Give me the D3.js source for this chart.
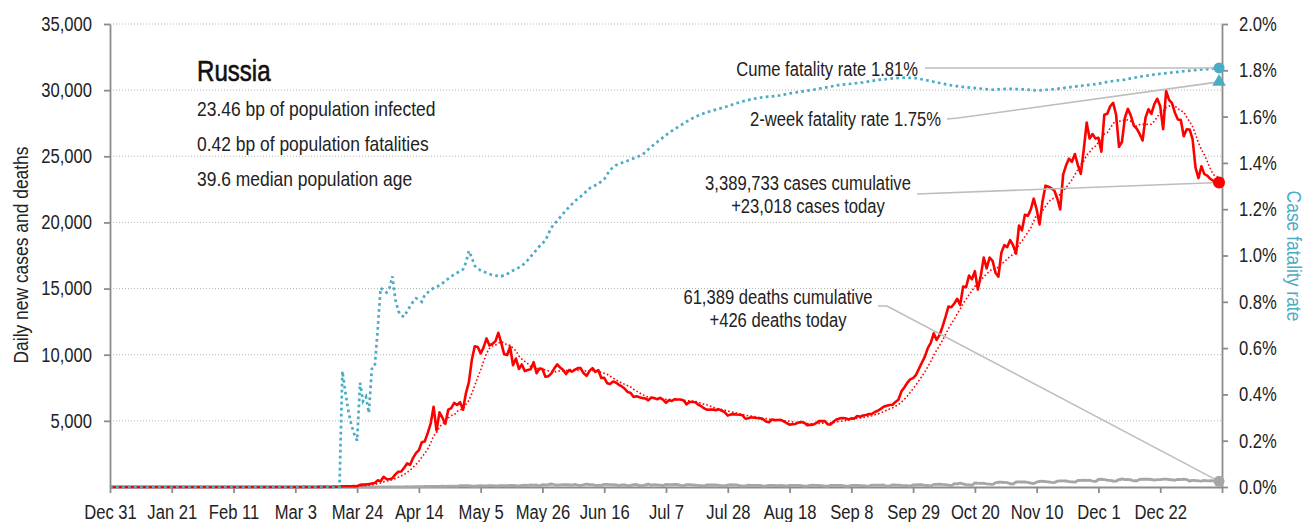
<!DOCTYPE html>
<html>
<head>
<meta charset="utf-8">
<script src="https://cdn.jsdelivr.net/npm/d3@7"></script>
<style>
  body { margin: 0; background: #fff; }
  svg { display: block; }
  text { font-family: "Liberation Sans", Arial, sans-serif; fill: #222; }
</style>
</head>
<body>
<svg id="chart" width="1308" height="522"></svg>
<script>
// ---- Data -------------------------------------------------------------
// First day of each row in the daily arrays below.
const rowStarts = ["2019-12-31", "2020-01-01", "2020-02-01", "2020-03-01", "2020-04-01",
  "2020-05-01", "2020-06-01", "2020-07-01", "2020-08-01", "2020-09-01", "2020-10-01",
  "2020-11-01", "2020-12-01", "2021-01-01"];

// Daily new confirmed cases, Russia
const dailyCases = [
  [0],
  [0,0,0,0,0,0,0,0,0,0, 0,0,0,0,0,0,0,0,0,0, 0,0,0,0,0,0,0,0,0,0, 2],
  [0,0,0,0,0,0,0,0,0,0, 0,0,0,0,0,0,0,0,0,0, 0,0,0,0,0,0,0,0,0],
  [0,1,0,0,1,6,0,0,3,2, 8,6,17,14,4,30,21,33,52,54, 53,61,71,57,163,182,196,228,270,302, 501],
  [440,771,601,582,658,954,1154,1175,1459,1786, 1667,2186,2558,2774,3388,3448,4070,4785,6060,4268,
   5642,5236,4774,5849,5966,6361,6198,6411,5841,7099],
  [7933,9623,10633,10581,10102,10559,11231,10699,10817,11012, 11656,10899,10028,9974,10598,9200,9709,8926,9263,8764,
   8849,8894,9434,8599,8946,8915,8338,8371,8572,8952, 9268],
  [9035,8863,8536,8831,8726,8855,8984,8985,8595,8404, 8779,8987,8706,8835,8246,8248,7843,7790,7972,7889,
   7728,7600,7425,7176,7113,6800,6852,6791,6719,6693],
  [6556,6760,6718,6632,6736,6611,6368,6562,6509,6635, 6611,6615,6537,6248,6422,6428,6406,6214,6109,5940,
   5842,5862,5848,5811,5871,5765,5635,5395,5475,5509, 5482],
  [5462,5427,5159,5204,5267,5241,5212,5189,5118,4945, 4892,5102,5057,5061,5076,4969,4839,4718,4748,4767,
   4870,4921,4852,4676,4696,4711,4829,4979,4995,4980, 4729],
  [4729,4952,5110,5185,5205,5195,5099,5185,5172,5363, 5310,5406,5449,5509,5529,5670,5762,5905,6065,6148,
   6196,6215,6431,6595,7212,7523,7867,8135,8232,8481],
  [8945,9412,9859,10499,10888,11615,11115,11493,12126,12846, 13634,13592,13868,14231,13754,15150,15099,15982,15700,16319,
   14922,15971,17340,16521,17347,17100,16202,15900,17717,18283, 18140],
  [18665,18257,17648,19768,19404,20582,20498,20977,21798,20977, 19851,21608,22778,22702,22572,22410,21829,20985,23610,24318,
   24822,24581,25173,24326,23675,25487,27543,26338,26683,26338],
  [26402,25345,28145,28209,28782,29039,28137,25718,26097,27927, 28585,28080,27328,27094,26689,26190,27921,28552,28209,28948,
   29350,28776,27045,29935,29258,29018,28284,27787,27747,26513, 27039],
  [27029,26301,24150,23351,24246,23652,23541,23300,23150,23100, 23018]
];

// Daily new deaths, Russia
const dailyDeaths = [
  [0],
  [0,0,0,0,0,0,0,0,0,0, 0,0,0,0,0,0,0,0,0,0, 0,0,0,0,0,0,0,0,0,0, 0],
  [0,0,0,0,0,0,0,0,0,0, 0,0,0,0,0,0,0,0,0,0, 0,0,0,0,0,0,0,0,0],
  [0,0,0,0,0,0,0,0,0,0, 0,0,0,0,0,0,0,0,1,0, 0,0,0,0,2,0,1,0,4,1, 8],
  [7,2,4,9,2,11,11,13,13,18, 12,18,24,22,28,41,36,48,42,48, 51,57,42,60,66,72,47,108,101,108],
  [96,57,58,76,95,86,88,98,104,88, 94,107,107,96,113,119,94,91,115,135, 127,150,139,153,92,174,161,174,232,181, 138],
  [162,182,178,169,144,197,134,112,171,216, 183,174,119,113,119,193,194,182,181,161, 109,153,154,92,128,176,188,104,93,154],
  [216,147,176,168,135,104,198,173,174,188, 188,130,110,175,183,161,140,119,95,85, 165,150,154,153,120,88,85,147,169,161, 154],
  [95,70,75,144,129,129,119,114,70,77, 130,129,114,109,119,94,60,115,121,121, 114,101,72,60,123,131,122,113,100,65, 57],
  [123,117,121,119,112,69,56,122,125,116, 108,110,81,70,145,137,141,144,150,59, 72,160,150,145,117,108,99,55,160,169],
  [186,170,117,114,73,197,202,215,192,174, 147,99,244,239,286,232,186,165,119,317, 286,280,283,229,219,192,320,366,366,355, 334],
  [245,219,389,389,378,385,349,286,256,368, 432,439,411,387,353,334,442,456,463,467, 401,385,361,491,507,524,496,510,444,417],
  [569,589,554,511,496,436,439,561,613,562, 577,535,457,464,570,597,585,594,568,519, 562,555,589,602,567,543,511,571,559,599, 565],
  [442,508,482,456,448,505,470,489,456,472, 426]
];

// Cumulative case fatality rate (%), by date
const cfrPoints = [
  ["2019-12-31", 0], ["2020-01-31", 0], ["2020-03-18", 0],
  ["2020-03-19", 0.50], ["2020-03-20", 0.41], ["2020-03-21", 0.33], ["2020-03-22", 0.27],
  ["2020-03-23", 0.23], ["2020-03-24", 0.20], ["2020-03-25", 0.45], ["2020-03-26", 0.37],
  ["2020-03-27", 0.39], ["2020-03-28", 0.32], ["2020-03-29", 0.51], ["2020-03-30", 0.52],
  ["2020-03-31", 0.68], ["2020-04-01", 0.86], ["2020-04-02", 0.85], ["2020-04-03", 0.84],
  ["2020-04-04", 0.86], ["2020-04-05", 0.91], ["2020-04-06", 0.81], ["2020-04-07", 0.76],
  ["2020-04-08", 0.74], ["2020-04-09", 0.735], ["2020-04-10", 0.76], ["2020-04-11", 0.78],
  ["2020-04-12", 0.80], ["2020-04-13", 0.815], ["2020-04-14", 0.81], ["2020-04-15", 0.80],
  ["2020-04-16", 0.83], ["2020-04-17", 0.84], ["2020-04-19", 0.86], ["2020-04-21", 0.87],
  ["2020-04-23", 0.89], ["2020-04-25", 0.91], ["2020-04-27", 0.925], ["2020-04-29", 0.94],
  ["2020-04-30", 0.97], ["2020-05-01", 1.02], ["2020-05-02", 0.99], ["2020-05-03", 0.955],
  ["2020-05-05", 0.935], ["2020-05-07", 0.925], ["2020-05-09", 0.915], ["2020-05-12", 0.91],
  ["2020-05-14", 0.92], ["2020-05-16", 0.935], ["2020-05-19", 0.955], ["2020-05-21", 0.98],
  ["2020-05-23", 1.01], ["2020-05-25", 1.04], ["2020-05-27", 1.065], ["2020-05-29", 1.12],
  ["2020-05-31", 1.15], ["2020-06-03", 1.195], ["2020-06-06", 1.235], ["2020-06-08", 1.255],
  ["2020-06-11", 1.29], ["2020-06-14", 1.31], ["2020-06-16", 1.33], ["2020-06-18", 1.37],
  ["2020-06-20", 1.39], ["2020-06-23", 1.405], ["2020-06-26", 1.42], ["2020-06-29", 1.435],
  ["2020-07-02", 1.47], ["2020-07-05", 1.50], ["2020-07-08", 1.53], ["2020-07-11", 1.555],
  ["2020-07-14", 1.578], ["2020-07-17", 1.60], ["2020-07-20", 1.615], ["2020-07-24", 1.63],
  ["2020-07-28", 1.645], ["2020-08-01", 1.662], ["2020-08-05", 1.675], ["2020-08-09", 1.684],
  ["2020-08-14", 1.69], ["2020-08-18", 1.70], ["2020-08-22", 1.708], ["2020-08-26", 1.716],
  ["2020-08-30", 1.725], ["2020-09-04", 1.737], ["2020-09-08", 1.742], ["2020-09-12", 1.748],
  ["2020-09-17", 1.758], ["2020-09-22", 1.765], ["2020-09-26", 1.768], ["2020-09-30", 1.766],
  ["2020-10-04", 1.756], ["2020-10-08", 1.745], ["2020-10-12", 1.735], ["2020-10-16", 1.728],
  ["2020-10-21", 1.722], ["2020-10-26", 1.716], ["2020-10-31", 1.72], ["2020-11-05", 1.718],
  ["2020-11-10", 1.713], ["2020-11-15", 1.717], ["2020-11-20", 1.725], ["2020-11-25", 1.733],
  ["2020-11-30", 1.74], ["2020-12-05", 1.752], ["2020-12-10", 1.76], ["2020-12-15", 1.772],
  ["2020-12-20", 1.782], ["2020-12-25", 1.789], ["2020-12-30", 1.796], ["2021-01-04", 1.802],
  ["2021-01-08", 1.806], ["2021-01-11", 1.81]
];

const twoWeekRate = 1.75;          // % of cases in the last two weeks
const cumulativeCases = 3389733;
const cumulativeDeaths = 61389;

const countryName = "Russia";
const statLines = [
  "23.46 bp of population infected",
  "0.42 bp of population fatalities",
  "39.6 median population age"
];

const leftTicks = [5000, 10000, 15000, 20000, 25000, 30000, 35000];
const rightTicks = [0, 0.2, 0.4, 0.6, 0.8, 1.0, 1.2, 1.4, 1.6, 1.8, 2.0];
const dateTickStep = 21;

// ---- Setup ------------------------------------------------------------
const parse = d3.utcParse("%Y-%m-%d");
const TEAL = "#4bacc6", RED = "#ff0000", GREY = "#a6a6a6";
const FONT = '"Liberation Sans", Arial, sans-serif';
const SQUEEZE = 0.83;   // horizontal compression giving a condensed face

function flatten(rows) {
  const out = [];
  rows.forEach((row, i) => {
    const d0 = parse(rowStarts[i]);
    row.forEach((v, j) => out.push({ date: d3.utcDay.offset(d0, j), value: v }));
  });
  return out;
}
function trailingMean(series, n) {
  return series.map((d, i) => {
    const win = series.slice(Math.max(0, i - n + 1), i + 1);
    return { date: d.date, value: d3.mean(win, w => w.value) };
  });
}

const cases = flatten(dailyCases);
const deaths = flatten(dailyDeaths);
const casesAvg = trailingMean(cases, 7);
const deathsAvg = trailingMean(deaths, 7);
const cfr = cfrPoints.map(([d, v]) => ({ date: parse(d), value: v }));

const startDate = parse("2019-12-31");
const endDate = parse("2021-01-12");

const x = d3.scaleUtc().domain([startDate, endDate]).range([110, 1222]);
const yL = d3.scaleLinear().domain([0, 35000]).range([487, 24]);
const yR = d3.scaleLinear().domain([0, 2.0]).range([487, 24]);

const svg = d3.select("#chart");

// Gridlines
svg.append("g").selectAll("line").data(leftTicks).join("line")
  .attr("x1", x.range()[0]).attr("x2", x.range()[1])
  .attr("y1", d => yL(d)).attr("y2", d => yL(d))
  .attr("stroke", "#b4b4b4").attr("stroke-width", 1).attr("stroke-dasharray", "1,2");

// Axes
const axisColor = "#8c8c8c";
const fmtDate = d3.utcFormat("%b %-d");
const dateTicks = d3.range(0, d3.utcDay.count(startDate, endDate) + 1, dateTickStep)
  .map(n => d3.utcDay.offset(startDate, n));

const gx = svg.append("g").attr("transform", `translate(0,${yL(0)})`)
  .call(d3.axisBottom(x).tickValues(dateTicks)
    .tickFormat(d => (+d === +endDate ? "" : fmtDate(d)))
    .tickSize(6).tickSizeOuter(0).tickPadding(12));

const gl = svg.append("g").attr("transform", `translate(${x.range()[0]},0)`)
  .call(d3.axisLeft(yL).tickValues(leftTicks).tickFormat(d3.format(","))
    .tickSize(6).tickSizeOuter(0).tickPadding(12));

const gr = svg.append("g").attr("transform", `translate(${x.range()[1]},0)`)
  .call(d3.axisRight(yR).tickValues(rightTicks).tickFormat(d => d.toFixed(1) + "%")
    .tickSize(6).tickSizeOuter(0).tickPadding(11));

[gx, gl, gr].forEach(g => {
  g.select(".domain").attr("stroke", axisColor).attr("stroke-width", 1.8);
  g.selectAll(".tick line").attr("stroke", axisColor).attr("stroke-width", 1.8);
  g.selectAll(".tick text").style("font-family", FONT)
    .style("font-size", "20px").attr("fill", "#222");
});
gr.selectAll(".tick text").attr("fill", TEAL);

// Axis titles
svg.append("text")
  .attr("transform", "translate(28,255) rotate(-90)")
  .attr("text-anchor", "middle").style("font-size", "21px")
  .text("Daily new cases and deaths");
svg.append("text")
  .attr("transform", "translate(1287,256) rotate(90)")
  .attr("text-anchor", "middle").style("font-size", "21px").style("fill", TEAL)
  .text("Case fatality rate");

// Series
const lineL = d3.line().x(d => x(d.date)).y(d => yL(d.value));
const lineR = d3.line().x(d => x(d.date)).y(d => yR(d.value));

svg.append("path").datum(deathsAvg).attr("d", lineL)
  .attr("fill", "none").attr("stroke", GREY).attr("stroke-width", 1.4).attr("stroke-dasharray", "1.5,2.2");
svg.append("path").datum(deaths).attr("d", lineL)
  .attr("fill", "none").attr("stroke", GREY).attr("stroke-width", 2.8).attr("stroke-linejoin", "round");
svg.append("path").datum(casesAvg).attr("d", lineL)
  .attr("fill", "none").attr("stroke", RED).attr("stroke-width", 1.6).attr("stroke-dasharray", "1.6,2.2");
svg.append("path").datum(cases).attr("d", lineL)
  .attr("fill", "none").attr("stroke", RED).attr("stroke-width", 2.6).attr("stroke-linejoin", "round");
svg.append("path").datum(cfr).attr("d", lineR)
  .attr("fill", "none").attr("stroke", TEAL).attr("stroke-width", 2.7).attr("stroke-dasharray", "2.7,3.3");

// Title block
svg.append("text").attr("x", 197).attr("y", 81).style("font-size", "29px")
  .attr("stroke", "#111").attr("stroke-width", 0.6).style("fill", "#111")
  .text(countryName);
svg.append("g").selectAll("text").data(statLines).join("text")
  .attr("x", 197).attr("y", (d, i) => 116 + i * 35)
  .style("font-size", "21px").text(d => d);

// Latest values and their callouts
const lastCase = cases[cases.length - 1];
const lastDeath = deaths[deaths.length - 1];
const lastCfr = cfr[cfr.length - 1];
const fmt = d3.format(",");
const leaderStyle = s => s.attr("fill", "none").attr("stroke", "#bdbdbd").attr("stroke-width", 1.6);

const anno = svg.append("g").style("font-size", "20px");

// cumulative fatality rate
anno.append("text").attr("x", 918).attr("y", 76).attr("text-anchor", "end")
  .text(`Cume fatality rate ${lastCfr.value.toFixed(2)}%`);
svg.append("path").call(leaderStyle)
  .attr("d", d3.line()([[925, yR(lastCfr.value)], [x(lastCfr.date), yR(lastCfr.value)]]));

// two-week fatality rate
anno.append("text").attr("x", 941).attr("y", 126).attr("text-anchor", "end")
  .text(`2-week fatality rate ${twoWeekRate.toFixed(2)}%`);
svg.append("path").call(leaderStyle)
  .attr("d", d3.line()([[947, 119], [958, 118], [x(lastCfr.date), yR(twoWeekRate)]]));

// cases
anno.append("text").attr("x", 808).attr("y", 190).attr("text-anchor", "middle")
  .text(`${fmt(cumulativeCases)} cases cumulative`);
anno.append("text").attr("x", 808).attr("y", 213).attr("text-anchor", "middle")
  .text(`+${fmt(lastCase.value)} cases today`);
svg.append("path").call(leaderStyle)
  .attr("d", d3.line()([[917, 194], [x(lastCase.date), yL(lastCase.value)]]));

// deaths
anno.append("text").attr("x", 778).attr("y", 304).attr("text-anchor", "middle")
  .text(`${fmt(cumulativeDeaths)} deaths cumulative`);
anno.append("text").attr("x", 778).attr("y", 327).attr("text-anchor", "middle")
  .text(`+${fmt(lastDeath.value)} deaths today`);
svg.append("path").call(leaderStyle)
  .attr("d", d3.line()([[878, 306], [887, 306], [x(lastDeath.date), yL(lastDeath.value)]]));

// end markers
svg.append("circle").attr("cx", x(lastDeath.date)).attr("cy", yL(lastDeath.value)).attr("r", 5.5).attr("fill", GREY);
svg.append("circle").attr("cx", x(lastCase.date)).attr("cy", yL(lastCase.value)).attr("r", 6).attr("fill", RED);
svg.append("circle").attr("cx", x(lastCfr.date)).attr("cy", yR(lastCfr.value)).attr("r", 5.5).attr("fill", TEAL);
svg.append("path")
  .attr("transform", `translate(${x(lastCfr.date)},${yR(twoWeekRate)})`)
  .attr("d", d3.symbol(d3.symbolTriangle, 80)())
  .attr("fill", TEAL);

// Condense every label horizontally
svg.selectAll("text").each(function () {
  const w = this.getComputedTextLength();
  if (w > 0) d3.select(this).attr("textLength", w * SQUEEZE).attr("lengthAdjust", "spacingAndGlyphs");
});
</script>
</body>
</html>
